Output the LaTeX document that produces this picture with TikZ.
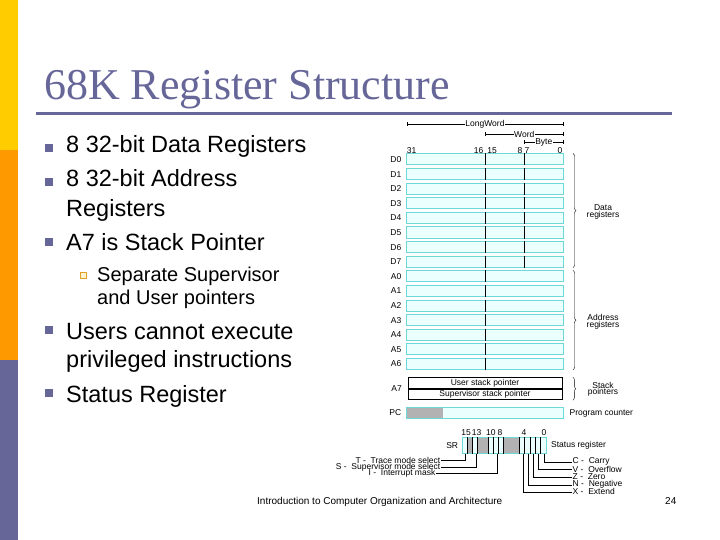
\documentclass[tikz,border=0pt]{standalone}
\usepackage{fontspec}
\setmainfont{Liberation Serif}
\setsansfont{Liberation Sans}
\usetikzlibrary{arrows.meta,positioning,decorations.pathreplacing}
\definecolor{slate}{RGB}{102,102,153}
\definecolor{barY}{RGB}{255,204,0}
\definecolor{barO}{RGB}{255,153,0}
\definecolor{regline}{RGB}{110,215,215}
\definecolor{regfill}{RGB}{236,255,255}
\definecolor{subline}{RGB}{225,160,40}
\definecolor{subfill}{RGB}{255,242,205}

\begin{document}
\begin{tikzpicture}[x=1pt,y=-1pt,>=Latex,node distance=4pt,font=\sffamily]
  \tikzstyle{reg}=[draw=regline,fill=regfill,line width=1pt,minimum width=157pt,minimum height=11pt,inner sep=0pt]
  \tikzstyle{tiny}=[font=\fontsize{8.5}{6.5}\selectfont\sffamily,inner sep=0.5pt]
  \tikzstyle{sqmark}=[fill=slate,minimum size=8pt,inner sep=0pt]
  \tikzstyle{item}=[anchor=base west,inner sep=0pt,font=\fontsize{23.5}{29}\selectfont\sffamily]
  \tikzstyle{subitem}=[anchor=base west,inner sep=0pt,font=\fontsize{20}{23}\selectfont\sffamily]
  \tikzstyle{gap}=[decorate,decoration={brace,amplitude=3pt}]
  \useasboundingbox (0,0) rectangle (720,540);
  \fill[barY] (0,0) rectangle (18,150);
  \fill[barO] (0,150) rectangle (18,360);
  \fill[slate] (0,360) rectangle (18,540);
  \node[anchor=base west,inner sep=0pt,text=slate,font=\fontsize{44}{44}\selectfont\rmfamily] (title) at (44,100) {68K Register Structure};
  \draw[slate,line width=3pt] (36,114) -- (672,114);

  \node[item] (it1) at (66,153) {8 32-bit Data Registers};
  \node[item] (it2a) at (66,187) {8 32-bit Address};
  \node[item] (it2b) at (66,216) {Registers};
  \node[item] (it3) at (66,251) {A7 is Stack Pointer};
  \node[subitem] (it4a) at (97,281) {Separate Supervisor};
  \node[subitem] (it4b) at (97,304) {and User pointers};
  \node[item] (it5a) at (66,339) {Users cannot execute};
  \node[item] (it5b) at (66,367) {privileged instructions};
  \node[item] (it6) at (66,402) {Status Register};
  \foreach \y [count=\k] in {148,182,242,330,393}
    \node[sqmark] (m\k) at (49,\y) {};
  \node[draw=subline,fill=subfill,line width=0.8pt,minimum size=6pt,inner sep=0pt] (sm) at (83.5,275) {};

  \foreach \n [count=\i from 0] in {D0,D1,D2,D3,D4,D5,D6,D7,A0,A1,A2,A3,A4,A5,A6}
  {
    \node[reg] (\n) at (485,159.5+14.6*\i) {};
    \node[tiny,left=4pt of \n] (l\n) {\n};
    \draw (\n.north) -- (\n.south);
  }
  \foreach \n in {D0,D1,D2,D3,D4,D5,D6,D7}
    \draw ([xshift=-39.5pt]\n.north east) -- ([xshift=-39.5pt]\n.south east);
  \foreach \b/\x in {31/411.5,16/478.5,15/492,8/520,7/527,0/560}
    \node[tiny] (n\b) at (\x,151) {\b};

  \coordinate (lwL) at (406.5,124); \coordinate (lwR) at (563.5,124);
  \coordinate (wL) at (485,134); \coordinate (wR) at (563.5,134);
  \coordinate (bL) at (524,142); \coordinate (bR) at (563.5,142);
  \draw[{Bar[width=4pt]}-{Bar[width=4pt]}] (lwL) -- node[tiny,fill=white] (lw) {LongWord} (lwR);
  \draw[{Bar[width=4pt]}-{Bar[width=4pt]}] (wL) -- node[tiny,fill=white] (w) {Word} (wR);
  \draw[{Bar[width=4pt]}-{Bar[width=4pt]}] (bL) -- node[tiny,fill=white] (by) {Byte} (bR);

  \node[draw,thick,fill=white,minimum width=154pt,minimum height=10.7pt,inner sep=0pt,tiny] (usp) at (485,383) {User stack pointer};
  \node[draw,thick,fill=white,minimum width=154pt,minimum height=10.7pt,inner sep=0pt,tiny,below=0pt of usp] (ssp) {Supervisor stack pointer};
  \node[tiny,anchor=east] (lA7) at (402.5,388.5) {A7};
  \node[reg] (PC) at (485,412.8) {};
  \fill[gray!60] ([xshift=1pt,yshift=-1pt]PC.north west) rectangle ([xshift=36.5pt,yshift=1pt]PC.south west);
  \node[tiny,left=4pt of PC] (lPC) {PC};

  \draw[gap] ([xshift=9pt]D0.north east) -- ([xshift=9pt]D7.south east);
  \draw[gap] ([xshift=9pt]A0.north east) -- ([xshift=9pt]A6.south east);
  \draw[gap] ([xshift=10.5pt]usp.north east) -- ([xshift=10.5pt]ssp.south east);
  \node[tiny,align=center] (ldata) at (603,212) {Data\\registers};
  \node[tiny,align=center] (laddr) at (603,322) {Address\\registers};
  \node[tiny,align=center] (lstack) at (603,389.5) {Stack\\pointers};
  \node[tiny,anchor=west] (lpcount) at (569,413) {Program counter};

  \node[draw=regline,fill=regfill,line width=1pt,minimum width=83.7pt,minimum height=15.6pt,inner sep=0pt] (SR) at (504.15,445.5) {};
  \foreach \j in {1,3,4,8,9,10}
    \fill[gray!60] ([xshift=\j*5.23pt,yshift=-1pt]SR.north west) rectangle ([xshift=(\j+1)*5.23pt,yshift=1pt]SR.south west);
  \foreach \j in {1,2,3,5,6,7,8,11,12,13,14,15}
    \draw ([xshift=\j*5.23pt]SR.north west) -- ([xshift=\j*5.23pt]SR.south west);
  \foreach \b in {0,...,15}
    \coordinate (s\b) at ([xshift=-(\b+0.5)*5.23pt]SR.south east);
  \foreach \b/\x in {15/466,13/476.7,10/490.8,8/500,4/524,0/544}
    \node[tiny] (sn\b) at (\x,432.3) {\b};
  \node[tiny,left=3pt of SR] (lSR) {SR};
  \node[tiny,right=4pt of SR] (lstat) {Status register};

  \node[tiny,anchor=east] (fT) at (441,460) {T -\ \ Trace mode select};
  \node[tiny,anchor=east] (fS) at (441,467) {S -\ \ Supervisor mode select};
  \node[tiny,anchor=east] (fI) at (436,473.3) {I -\ \ Interrupt mask};
  \draw (s15) |- (fT.east);
  \draw (s13) |- (fS.east);
  \draw (s9) |- (fI.east);
  \node[tiny,anchor=west] (fC) at (572,461.7) {C -\ \ Carry};
  \node[tiny,anchor=west] (fV) at (572,469) {V -\ \ Overflow};
  \node[tiny,anchor=west] (fZ) at (572,476.7) {Z -\ \ Zero};
  \node[tiny,anchor=west] (fN) at (572,484.7) {N -\ \ Negative};
  \node[tiny,anchor=west] (fX) at (572,491.7) {X -\ \ Extend};
  \draw (s0) |- (fC.west);
  \draw (s1) |- (fV.west);
  \draw (s2) |- (fZ.west);
  \draw (s3) |- (fN.west);
  \draw (s4) |- (fX.west);

  \node[anchor=base west,inner sep=0pt,font=\fontsize{10}{10}\selectfont\sffamily] (foot) at (257,504) {Introduction to Computer Organization and Architecture};
  \node[anchor=base west,inner sep=0pt,font=\fontsize{10}{10}\selectfont\sffamily] (page) at (665,504) {24};
\end{tikzpicture}
\end{document}
